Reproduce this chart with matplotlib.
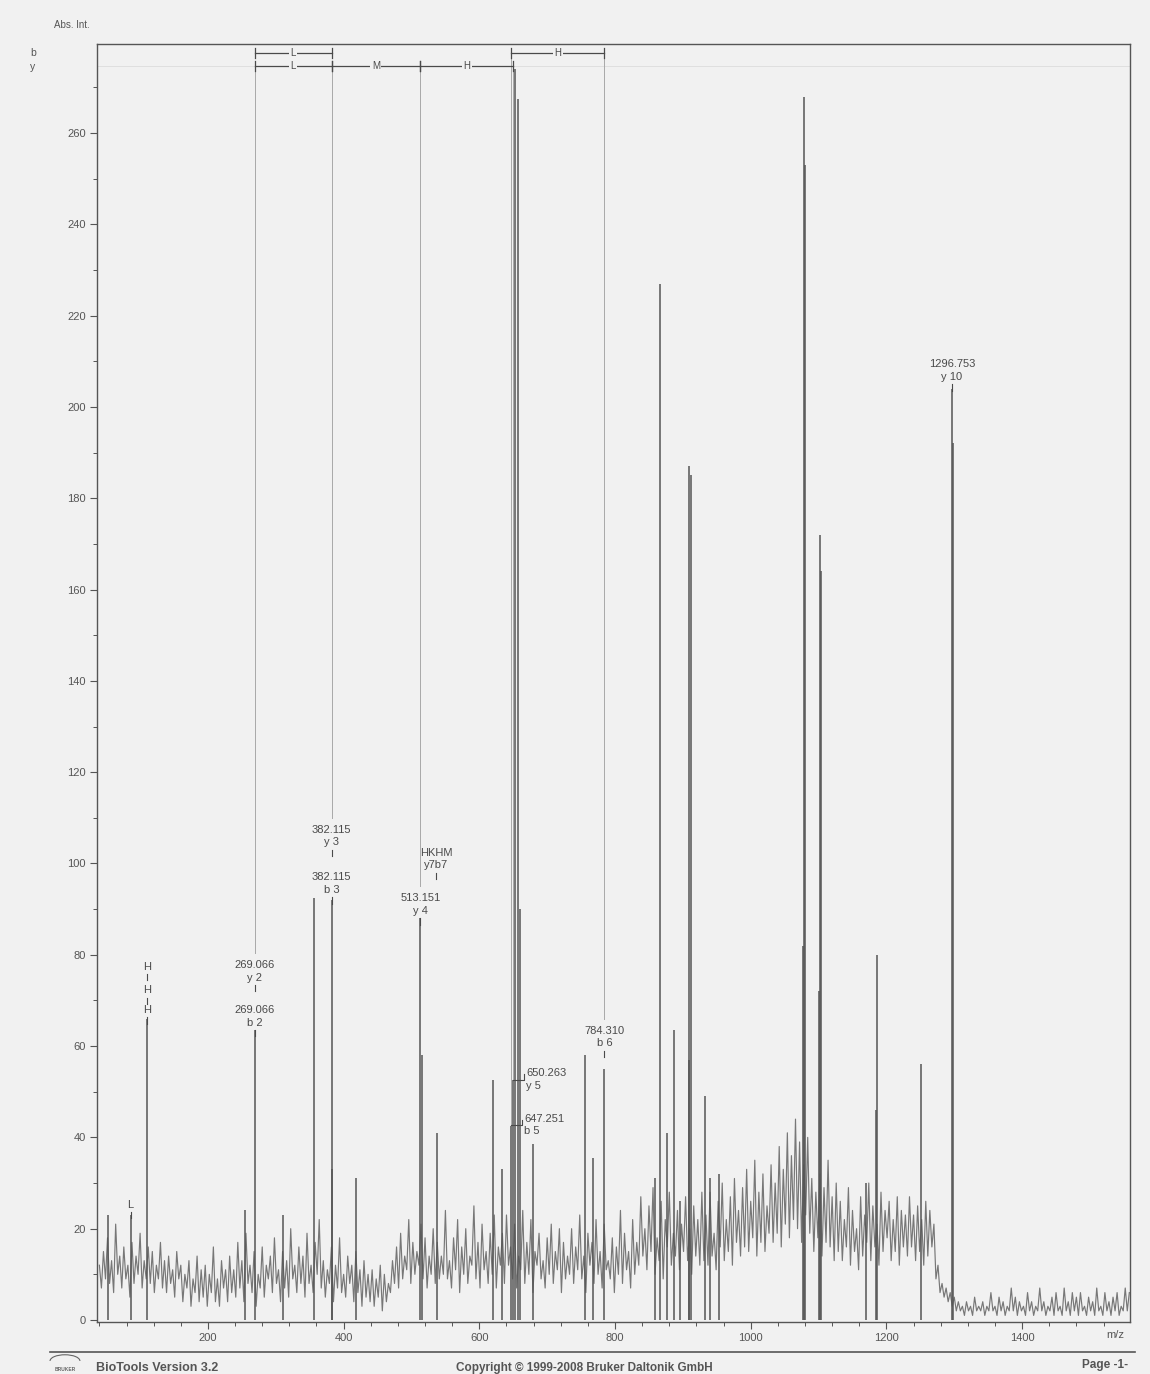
import numpy as np
import matplotlib.pyplot as plt
from matplotlib.ticker import MultipleLocator
from matplotlib.patches import Arc

plt.rcParams['font.family'] = ['Liberation Sans', 'DejaVu Sans']

BG = '#f1f1f1'
INK = '#4a4a4a'

# baseline profile, one point every 3 m/z starting at m/z 40
noise_start = 40
noise_step = 3
noise = [
    12, 7, 15, 9, 18, 8, 13, 6, 21, 10, 14, 7, 16, 9, 12, 5, 17, 8, 14, 10, 19, 7, 13, 9, 16, 8, 15, 6, 12, 9, 17, 7, 13,
    6, 14, 8, 11, 5, 15, 9, 12, 4, 10, 7, 13, 3, 9, 6, 14, 4, 11, 5, 12, 3, 10, 6, 16, 4, 9, 3, 13, 7, 11, 4, 14, 6,
    11, 5, 17, 7, 13, 4, 19, 8, 12, 6, 15, 3, 10, 7, 16, 5, 12, 9, 14, 6, 18, 8, 11, 4, 15, 7, 13, 5, 20, 9, 12, 6, 16,
    8, 14, 5, 19, 8, 12, 6, 17, 10, 22, 7, 13, 5, 11, 8, 16, 4, 12, 7, 18, 6, 10, 5, 14, 8, 12, 4, 15, 6, 11, 3, 13, 5,
    10, 4, 11, 3, 9, 5, 12, 2, 10, 4, 8, 6, 13, 8, 16, 7, 19, 9, 14, 11, 22, 8, 17, 10, 15, 12, 21, 9, 18, 7, 14, 10, 20,
    8, 17, 9, 14, 10, 24, 9, 13, 7, 18, 11, 22, 6, 16, 10, 20, 8, 14, 12, 25, 9, 17, 7, 21, 11, 15, 8, 19, 10, 23, 7, 16, 12,
    19, 8, 23, 12, 16, 9, 21, 7, 14, 11, 24, 8, 17, 10, 22, 6, 15, 12, 19, 9, 13, 7, 18, 10, 21, 8, 15, 11, 20, 6, 17, 9, 14,
    10, 20, 8, 16, 11, 23, 9, 14, 6, 19, 12, 17, 8, 22, 10, 15, 7, 21, 11, 13, 9, 18, 6, 16, 10, 24, 8, 19, 11, 15, 7, 22, 10,
    17, 12, 27, 14, 20, 11, 25, 15, 29, 10, 18, 13, 26, 9, 22, 16, 28, 12, 19, 14, 24, 11, 21, 15, 27, 13, 20, 10, 25, 14, 22, 12, 28,
    13, 23, 12, 28, 14, 19, 11, 26, 16, 30, 13, 22, 15, 27, 12, 31, 17, 24, 14, 29, 16, 33, 15, 26, 18, 35, 14, 28, 17, 32, 15, 25, 19,
    34, 17, 30, 19, 38, 16, 33, 21, 41, 18, 36, 22, 44, 20, 39, 17, 34, 23, 40, 19, 31, 15, 28, 18, 32, 14, 29, 17, 35, 16, 27, 13, 30,
    15, 26, 13, 22, 16, 29, 12, 24, 15, 20, 11, 27, 14, 23, 17, 30, 13, 25, 16, 21, 12, 28, 15, 24, 18, 26, 13, 22, 15, 27, 12, 24, 16,
    23, 14, 27, 16, 23, 13, 25, 15, 22, 12, 26, 14, 24, 16, 21, 9, 12, 6, 8, 5, 7, 4, 6, 3, 5, 2, 4, 2, 3, 1, 4, 2, 3,
    1, 5, 2, 3, 2, 4, 1, 3, 2, 6, 2, 3, 1, 5, 2, 4, 1, 3, 2, 7, 2, 5, 1, 4, 2, 3, 1, 6, 2, 4, 1, 3, 2,
    7, 2, 4, 1, 3, 2, 5, 1, 6, 2, 3, 1, 7, 2, 4, 1, 6, 2, 5, 1, 6, 2, 3, 1, 5, 2, 4, 1, 7, 2, 3, 1, 6,
    2, 4, 1, 5, 2, 6, 1, 3, 2, 7, 2, 6,
]

# centroided fragment peaks
peak_mz = [53, 86.1, 110.07, 254.5, 269.066, 310, 356, 382.115, 382.6, 418,
           513.151, 516, 537.6, 620.6, 633, 647.251, 650.263, 653, 656.5, 659.5,
           679.6, 755.8, 768, 784.310, 859, 866.3, 876, 887, 896, 909, 909.6, 911.5,
           932.6, 940, 953, 1077, 1078.0, 1079.5, 1101, 1102, 1103.5, 1170,
           1184.5, 1185.5, 1251, 1296.753, 1297.8]
peak_int = [23, 23, 66, 24, 63.5, 23, 92.5, 92, 33, 31,
            88, 58, 41, 52.6, 33, 42.5, 52.5, 274, 267.5, 90,
            38.5, 58, 35.5, 55, 31, 227, 41, 63.5, 26, 187, 57, 185,
            49, 31, 32, 82, 268, 253, 72, 172, 164, 30,
            46, 80, 56, 204, 192]

# ion labels stacked above their peaks
label_mz = [86.1, 110.07, 110.07, 110.07, 269.066, 269.066, 382.115, 382.115,
            513.151, 536.0, 784.310, 1296.753]
label_int = [23.7, 66.3, 70.6, 75.8, 63.5, 73.4, 92.6, 103.0,
             88.0, 98.0, 59.0, 205.0]
label_text = ['L', 'H', 'H', 'H', '269.066\nb 2', '269.066\ny 2', '382.115\nb 3',
              '382.115\ny 3', '513.151\ny 4', 'HKHM\ny7b7', '784.310\nb 6',
              '1296.753\ny 10']

# ion labels set beside the peak with a short leader
side_mz = [650.263, 647.251]
side_int = [52.6, 42.7]
side_text = ['650.263\ny 5', '647.251\nb 5']

# sequence ladders
b_from = [269.066, 647.251]
b_to = [382.115, 784.310]
b_res = ['L', 'H']
y_from = [269.066, 382.115, 513.151]
y_to = [382.115, 513.151, 650.263]
y_res = ['L', 'M', 'H']

fig = plt.figure(figsize=(11.5, 13.74), dpi=100, facecolor=BG)
ax = fig.add_axes([0.0843, 0.03785, 0.8983, 0.9301], facecolor=BG)

mz = noise_start + noise_step * np.arange(len(noise))
ax.plot(mz, noise, color='#777777', lw=0.85, zorder=2)
ax.vlines(peak_mz, 0, peak_int, color='#555555', lw=1.1, zorder=3)

# stacked labels with their small marks
for m, h, t in zip(label_mz, label_int, label_text):
    ax.plot([m, m], [h - 1.4, h], color=INK, lw=0.8, zorder=4)
    ax.text(m, h + 0.5, t, ha='center', va='bottom', fontsize=8,
            color=INK, linespacing=1.35, zorder=5)

for m, h, t in zip(side_mz, side_int, side_text):
    ax.plot([m, m + 16, m + 16], [h, h, h + 1.2], color=INK, lw=0.8, zorder=4)
    ax.text(m + 19, h, t, ha='left', va='center', fontsize=8,
            color=INK, linespacing=1.35, zorder=5)

# ladder rows
b_row, y_row = 277.6, 274.7
ax.plot([ax.get_xlim()[0], 1560], [y_row, y_row], color='#dcdcdc', lw=0.6, zorder=1)
for row, starts, ends, res in ((b_row, b_from, b_to, b_res), (y_row, y_from, y_to, y_res)):
    for a, b, r in zip(starts, ends, res):
        ax.plot([a, b], [row, row], color=INK, lw=0.9, zorder=4)
        ax.plot([a, a], [row - 1.1, row + 1.1], color=INK, lw=0.9, zorder=4)
        ax.plot([b, b], [row - 1.1, row + 1.1], color=INK, lw=0.9, zorder=4)
        ax.text((a + b) / 2, row, r, ha='center', va='center', fontsize=7, color=INK,
                zorder=5, bbox=dict(boxstyle='square,pad=0.15', fc=BG, ec='none'))

# drop lines from the ladders to the labels below
label_tops = {}
for m, h in zip(label_mz, label_int):
    label_tops[round(m, 3)] = max(label_tops.get(round(m, 3), 0), h + 7)
for m, h in zip(side_mz, side_int):
    label_tops[round(m, 3)] = h
for m in sorted(set(b_from + b_to + y_from + y_to)):
    row = b_row if m in (647.251, 784.310) else y_row
    ax.plot([m, m], [row, label_tops.get(round(m, 3), 0)], color='#a8a8a8',
            lw=0.7, zorder=1)

ax.set_xlim(36.4, 1559)
ax.set_ylim(-0.44, 279.5)
ax.xaxis.set_major_locator(MultipleLocator(200))
ax.xaxis.set_minor_locator(MultipleLocator(40))
ax.yaxis.set_major_locator(MultipleLocator(20))
ax.yaxis.set_minor_locator(MultipleLocator(10))
ax.tick_params(which='major', direction='out', length=5, width=0.8, color='#555555',
               labelsize=8, labelcolor='#555555', pad=3)
ax.tick_params(which='minor', direction='out', length=3, width=0.7, color='#555555')
for s in ax.spines.values():
    s.set_color('#555555')
    s.set_linewidth(1.0)

fig.text(0.9696, 0.0284, 'm/z', fontsize=8, color='#555555', ha='center', va='center')
fig.text(0.0626, 0.9818, 'Abs. Int.', fontsize=7, color='#555555', ha='center', va='center')
fig.text(0.0287, 0.9614, 'b', fontsize=7.5, color='#555555', ha='center', va='center')
fig.text(0.0287, 0.9512, 'y', fontsize=7.5, color='#555555', ha='center', va='center')

# page footer
fig.add_artist(plt.Line2D([0.0435, 0.987], [0.016, 0.016], color='#555555', lw=1.2))
fig.text(0.0835, 0.0045, 'BioTools Version 3.2', fontsize=9, fontweight='bold',
         color='#555555', ha='left', va='center')
fig.text(0.508, 0.0045, 'Copyright \u00a9 1999-2008 Bruker Daltonik GmbH', fontsize=8.5,
         fontweight='bold', color='#555555', ha='center', va='center')
fig.text(0.981, 0.0065, 'Page -1-', fontsize=8.5, fontweight='bold', color='#555555',
         ha='right', va='center')
fig.add_artist(Arc((0.0565, 0.0095), 0.026, 0.009, theta1=0, theta2=180,
                   transform=fig.transFigure, color='#666666', lw=0.8))
fig.text(0.0565, 0.0035, 'BRUKER', fontsize=3.5, fontweight='bold', color='#666666',
         ha='center', va='center')

fig.savefig('out.png', dpi=100, facecolor=BG)
